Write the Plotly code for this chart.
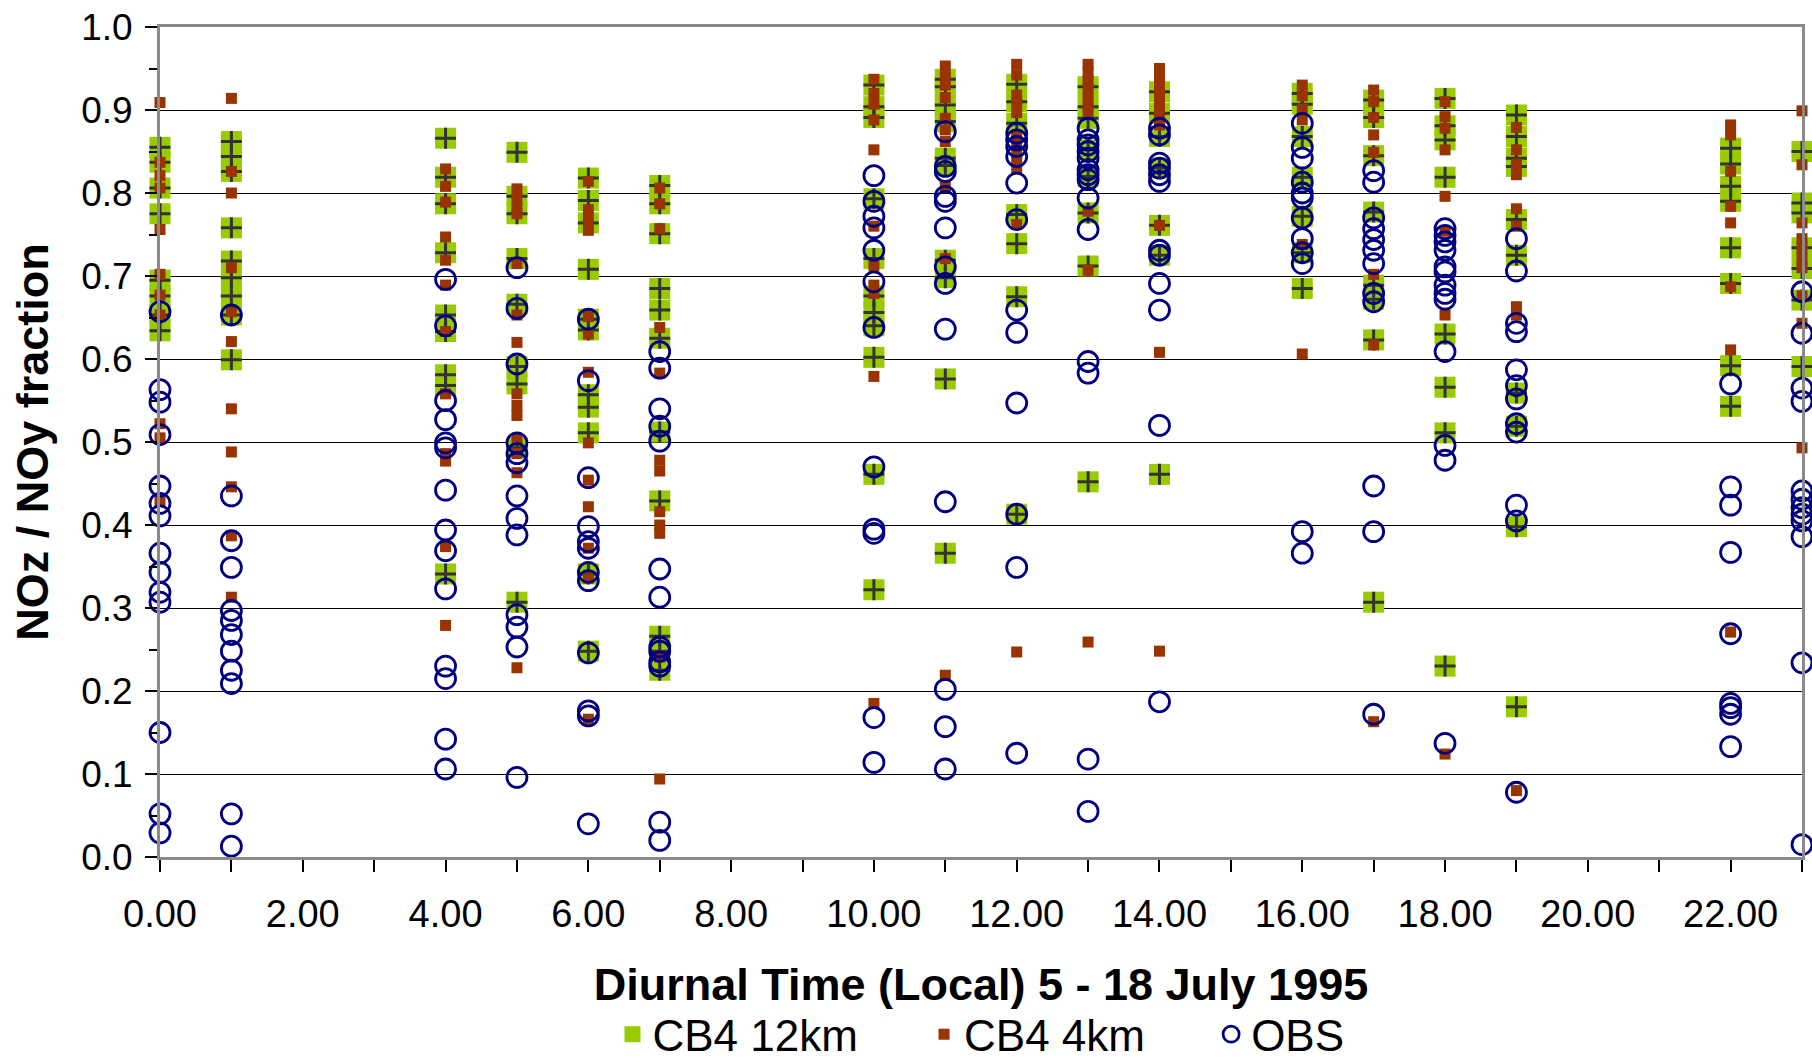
import plotly.graph_objects as go

# Hours (local) at which values are plotted
HOURS = [0, 1, 4, 5, 6, 7, 10, 11, 12, 13, 14, 16, 17, 18, 19, 22, 23]

# NOz/NOy fraction, CB4 12km model (one list per hour in HOURS)
CB4_12KM = [
    [0.855, 0.837, 0.806, 0.775, 0.695, 0.676, 0.653, 0.634],
    [0.862, 0.844, 0.826, 0.758, 0.718, 0.698, 0.676, 0.653, 0.599],
    [0.866, 0.819, 0.787, 0.728, 0.653, 0.633, 0.581, 0.568, 0.341],
    [0.849, 0.796, 0.775, 0.721, 0.666, 0.591, 0.570, 0.493, 0.307],
    [0.818, 0.791, 0.764, 0.708, 0.648, 0.635, 0.557, 0.542, 0.511, 0.341, 0.248],
    [0.809, 0.787, 0.751, 0.685, 0.659, 0.625, 0.512, 0.429, 0.266, 0.248, 0.225],
    [0.930, 0.904, 0.891, 0.793, 0.721, 0.676, 0.656, 0.640, 0.602, 0.461, 0.322],
    [0.937, 0.928, 0.906, 0.886, 0.842, 0.833, 0.719, 0.698, 0.576, 0.366],
    [0.931, 0.910, 0.884, 0.774, 0.739, 0.675, 0.413],
    [0.928, 0.904, 0.890, 0.852, 0.820, 0.776, 0.712, 0.452],
    [0.922, 0.896, 0.868, 0.830, 0.761, 0.725, 0.461],
    [0.920, 0.907, 0.868, 0.819, 0.772, 0.728, 0.685],
    [0.912, 0.891, 0.845, 0.777, 0.689, 0.672, 0.623, 0.307],
    [0.914, 0.881, 0.864, 0.819, 0.630, 0.566, 0.511, 0.230],
    [0.894, 0.868, 0.842, 0.832, 0.768, 0.725, 0.559, 0.519, 0.398, 0.181],
    [0.854, 0.835, 0.808, 0.790, 0.734, 0.691, 0.592, 0.543],
    [0.850, 0.788, 0.776, 0.734, 0.709, 0.671, 0.591],
]

# NOz/NOy fraction, CB4 4km model
CB4_4KM = [
    [0.909, 0.837, 0.821, 0.806, 0.756, 0.702, 0.677, 0.653, 0.522, 0.505, 0.429],
    [0.914, 0.826, 0.800, 0.710, 0.657, 0.621, 0.540, 0.488, 0.446, 0.387, 0.313],
    [0.829, 0.808, 0.789, 0.747, 0.719, 0.689, 0.633, 0.558, 0.486, 0.477, 0.374, 0.279],
    [0.805, 0.793, 0.781, 0.775, 0.715, 0.653, 0.620, 0.558, 0.544, 0.532, 0.503, 0.486, 0.463, 0.228],
    [0.814, 0.780, 0.767, 0.755, 0.651, 0.630, 0.584, 0.499, 0.454, 0.422, 0.372, 0.336, 0.166],
    [0.806, 0.787, 0.757, 0.638, 0.583, 0.478, 0.465, 0.416, 0.400, 0.390, 0.241, 0.094],
    [0.937, 0.920, 0.907, 0.888, 0.852, 0.760, 0.712, 0.689, 0.679, 0.579, 0.185],
    [0.953, 0.940, 0.930, 0.915, 0.890, 0.876, 0.862, 0.808, 0.721, 0.219],
    [0.955, 0.942, 0.918, 0.908, 0.897, 0.868, 0.858, 0.848, 0.838, 0.830, 0.762, 0.247],
    [0.955, 0.945, 0.935, 0.925, 0.915, 0.905, 0.898, 0.778, 0.707, 0.259],
    [0.950, 0.940, 0.930, 0.920, 0.910, 0.900, 0.890, 0.882, 0.761, 0.608, 0.248],
    [0.930, 0.917, 0.901, 0.888, 0.738, 0.606],
    [0.924, 0.910, 0.891, 0.870, 0.849, 0.702, 0.617, 0.163],
    [0.910, 0.892, 0.878, 0.852, 0.796, 0.754, 0.653, 0.124],
    [0.879, 0.852, 0.835, 0.822, 0.781, 0.760, 0.663, 0.653, 0.080],
    [0.882, 0.870, 0.826, 0.784, 0.764, 0.687, 0.611, 0.271],
    [0.899, 0.834, 0.764, 0.745, 0.733, 0.720, 0.710, 0.676, 0.643, 0.493],
]

# NOz/NOy fraction, observations
OBS = [
    [0.657, 0.563, 0.548, 0.509, 0.447, 0.426, 0.411, 0.366, 0.343, 0.319, 0.307, 0.150, 0.052, 0.029],
    [0.653, 0.435, 0.381, 0.349, 0.297, 0.285, 0.268, 0.248, 0.225, 0.209, 0.052, 0.013],
    [0.696, 0.640, 0.550, 0.527, 0.499, 0.493, 0.442, 0.394, 0.369, 0.323, 0.230, 0.215, 0.142, 0.106],
    [0.710, 0.661, 0.594, 0.499, 0.486, 0.475, 0.435, 0.408, 0.388, 0.292, 0.277, 0.253, 0.096],
    [0.648, 0.574, 0.457, 0.398, 0.380, 0.372, 0.343, 0.333, 0.246, 0.176, 0.170, 0.040],
    [0.609, 0.589, 0.540, 0.519, 0.501, 0.347, 0.313, 0.253, 0.248, 0.235, 0.230, 0.042, 0.020],
    [0.821, 0.790, 0.772, 0.758, 0.731, 0.693, 0.638, 0.470, 0.395, 0.390, 0.168, 0.114],
    [0.874, 0.832, 0.826, 0.796, 0.790, 0.758, 0.711, 0.691, 0.636, 0.428, 0.202, 0.157, 0.106],
    [0.872, 0.864, 0.856, 0.844, 0.812, 0.768, 0.659, 0.632, 0.547, 0.413, 0.349, 0.125],
    [0.878, 0.864, 0.858, 0.850, 0.842, 0.828, 0.822, 0.816, 0.794, 0.756, 0.597, 0.583, 0.118, 0.055],
    [0.878, 0.870, 0.836, 0.830, 0.822, 0.814, 0.731, 0.725, 0.691, 0.659, 0.520, 0.187],
    [0.884, 0.855, 0.842, 0.813, 0.800, 0.794, 0.770, 0.745, 0.728, 0.715, 0.392, 0.366],
    [0.827, 0.813, 0.770, 0.757, 0.744, 0.731, 0.715, 0.679, 0.669, 0.447, 0.392, 0.172],
    [0.757, 0.749, 0.741, 0.731, 0.711, 0.705, 0.689, 0.679, 0.672, 0.609, 0.496, 0.478, 0.137],
    [0.745, 0.706, 0.643, 0.633, 0.587, 0.568, 0.552, 0.522, 0.512, 0.424, 0.405, 0.078],
    [0.570, 0.446, 0.424, 0.367, 0.269, 0.185, 0.180, 0.172, 0.133],
    [0.681, 0.631, 0.565, 0.549, 0.441, 0.431, 0.421, 0.413, 0.405, 0.386, 0.234, 0.015],
]

SERIES_NAMES = ["CB4 12km", "CB4 4km", "OBS"]
X_TITLE = "Diurnal Time (Local) 5 - 18 July 1995"
Y_TITLE = "NOz / NOy fraction"


def flatten(hours, groups):
    xs, ys = [], []
    for h, vals in zip(hours, groups):
        for v in vals:
            xs.append(h)
            ys.append(v)
    return xs, ys


x12, y12 = flatten(HOURS, CB4_12KM)
x4, y4 = flatten(HOURS, CB4_4KM)
xo, yo = flatten(HOURS, OBS)

FONT = "Liberation Sans, Arial, Helvetica, sans-serif"
PAD = "\u00a0" * 5  # spacing between legend entries

fig = go.Figure()
fig.add_trace(go.Scatter(
    x=x12, y=y12, mode="markers", name=SERIES_NAMES[0] + PAD,
    marker=dict(symbol="square", size=21, color="#99CC00", line=dict(width=0)),
    cliponaxis=False, legendgroup="g12",
))
fig.add_trace(go.Scatter(
    x=x12, y=y12, mode="markers", name=SERIES_NAMES[0], showlegend=False,
    marker=dict(symbol="cross-thin", size=15, color="#333333",
                line=dict(width=3, color="#333333")),
    cliponaxis=False, legendgroup="g12",
))
fig.add_trace(go.Scatter(
    x=x4, y=y4, mode="markers", name=SERIES_NAMES[1] + PAD,
    marker=dict(symbol="square", size=11, color="#993300", line=dict(width=0)),
    cliponaxis=False,
))
fig.add_trace(go.Scatter(
    x=xo, y=yo, mode="markers", name=SERIES_NAMES[2],
    marker=dict(symbol="circle-open", size=20, color="#000080",
                line=dict(width=2.8, color="#000080")),
    cliponaxis=False,
))

fig.update_layout(
    width=1812, height=1064, autosize=False,
    margin=dict(l=160, r=10, t=27, b=207, autoexpand=False),
    paper_bgcolor="white", plot_bgcolor="white",
    font=dict(family=FONT, color="black", size=36),
    showlegend=True,
    legend=dict(
        orientation="h", x=0.5, xanchor="center", y=-0.214, yanchor="middle",
        font=dict(size=44, family=FONT, color="black"),
        itemsizing="trace", bgcolor="rgba(0,0,0,0)", itemwidth=30,
    ),
)

fig.update_xaxes(
    range=[0, 23], tick0=0, dtick=2, tickformat=".2f",
    ticks="outside", ticklen=12, tickwidth=1.5, tickcolor="black",
    minor=dict(dtick=1, ticks="outside", ticklen=12, tickwidth=1.5, tickcolor="black", showgrid=False),
    showgrid=False, zeroline=False, automargin=False,
    showline=True, linecolor="#8a8a8a", linewidth=3, mirror=True,
    tickfont=dict(size=38, family=FONT, color="black"),
    ticklabelstandoff=9,
    title=dict(text=X_TITLE, font=dict(size=45, family=FONT, color="black", weight="bold"), standoff=35),
)
fig.update_yaxes(
    range=[0, 1], tick0=0, dtick=0.1, tickformat=".1f",
    ticks="outside", ticklen=12, tickwidth=1.5, tickcolor="black",
    minor=dict(dtick=0.05, ticks="outside", ticklen=8, tickwidth=1.5, tickcolor="black", showgrid=False),
    showgrid=True, gridcolor="black", gridwidth=1,
    zeroline=False, automargin=False,
    showline=True, linecolor="#8a8a8a", linewidth=3, mirror=True,
    tickfont=dict(size=37, family=FONT, color="black"),
    ticklabelstandoff=5,
    title=dict(text=Y_TITLE, font=dict(size=45, family=FONT, color="black", weight="bold"), standoff=19),
)

fig.write_html(
    "out.html",
    config={"displayModeBar": False},
    post_script="document.body.style.margin='0';document.body.style.overflow='hidden';",
)
